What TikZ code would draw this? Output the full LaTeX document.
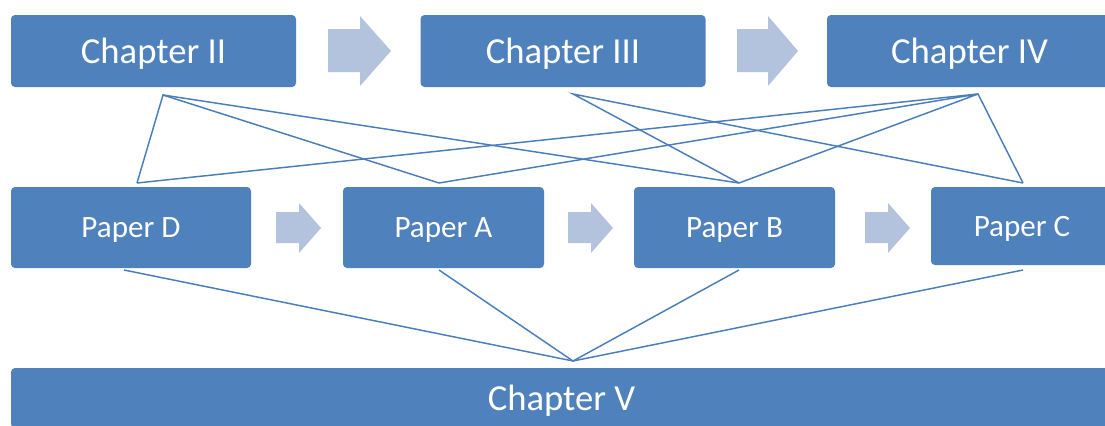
\documentclass[tikz,border=0pt]{standalone}
\usepackage{fontspec}
\setmainfont{Carlito}
\usepackage{xcolor}
\usepackage{tikz}
\usetikzlibrary{calc}
\definecolor{boxblue}{HTML}{4F81BD}
\definecolor{arrowblue}{HTML}{B3C3DE}
\definecolor{lineblue}{HTML}{4A7EBB}
\tikzset{
  chapbox/.style={fill=boxblue, rounded corners=3pt, text=white, inner sep=0pt, text depth=0pt,
    font=\fontsize{27.5}{30}\selectfont, minimum width=213.75pt, minimum height=54pt},
  paperbox/.style={fill=boxblue, rounded corners=3pt, text=white, inner sep=0pt, text depth=0pt,
    font=\fontsize{23.3}{26}\selectfont, minimum width=150.75pt, minimum height=60.75pt},
  link/.style={lineblue, line width=1.1pt},
}

\begin{document}
\begin{tikzpicture}[x=0.75pt, y=-0.75pt]
        \useasboundingbox (0,0) rectangle (1105,425);
        %CHAPTERS ATAS
       \node[chapbox] (ch2) at (153.5,51) {Chapter II};
       \node[chapbox] (ch3) at (563,51) {Chapter III};
       \node[chapbox] (ch4) at (969.5,51) {Chapter IV};
        %PANAH ATAS
       \fill[arrowblue] (328,29) -- (360,29) -- (360,16) -- (391,51) -- (360,86) -- (360,72) -- (328,72) -- cycle;
       \fill[arrowblue] (737,29) -- (768,29) -- (768,16) -- (798,51) -- (768,86) -- (768,72) -- (737,72) -- cycle;
        %PAPERS
       \node[paperbox, minimum width=180pt] (pD) at (131,227.5) {Paper D};
       \node[paperbox] (pA) at (443.5,227.5) {Paper A};
       \node[paperbox] (pB) at (734.5,227.5) {Paper B};
       \node[paperbox, minimum width=136.5pt, minimum height=58.5pt] (pC) at (1022,226) {Paper C};
        %PANAH TENGAH
       \fill[arrowblue] (276,212) -- (299,212) -- (299,203) -- (321,228) -- (299,253) -- (299,243) -- (276,243) -- cycle;
       \fill[arrowblue] (568,212) -- (591,212) -- (591,203) -- (613,228) -- (591,253) -- (591,243) -- (568,243) -- cycle;
       \fill[arrowblue] (865,212) -- (888,212) -- (888,203) -- (910,228) -- (888,253) -- (888,243) -- (865,243) -- cycle;
        %CHAPTER V
       \node[chapbox, minimum width=825.75pt, minimum height=45pt] (ch5) at (561.5,398) {Chapter V};
        %TITIK GARIS
       \coordinate (ch2-b) at (163,95);
       \coordinate (ch3-b) at (573,94);
       \coordinate (ch4-b) at (978,94);
       \coordinate (pD-t) at (137,183);
       \coordinate (pA-t) at (439,183);
       \coordinate (pB-t) at (739,183);
       \coordinate (pC-t) at (1023,183);
       \coordinate (pD-b) at (124,270);
       \coordinate (pA-b) at (439,270);
       \coordinate (pB-b) at (739,270);
       \coordinate (pC-b) at (1023,270);
       \coordinate (ch5-t) at (573,361);
        %GARIS ATAS
       \draw[link] (pD-t) -- (ch2-b) -- (pA-t);
       \draw[link] (ch2-b) -- (pB-t);
       \draw[link] (pB-t) -- (ch3-b) -- (pC-t);
       \draw[link] (pD-t) -- (ch4-b) -- (pC-t);
       \draw[link] (pA-t) -- (ch4-b) -- (pB-t);
        %GARIS BAWAH
       \draw[link] (pD-b) -- (ch5-t) -- (pC-b);
       \draw[link] (pA-b) -- (ch5-t) -- (pB-b);
    \end{tikzpicture}
\end{document}
